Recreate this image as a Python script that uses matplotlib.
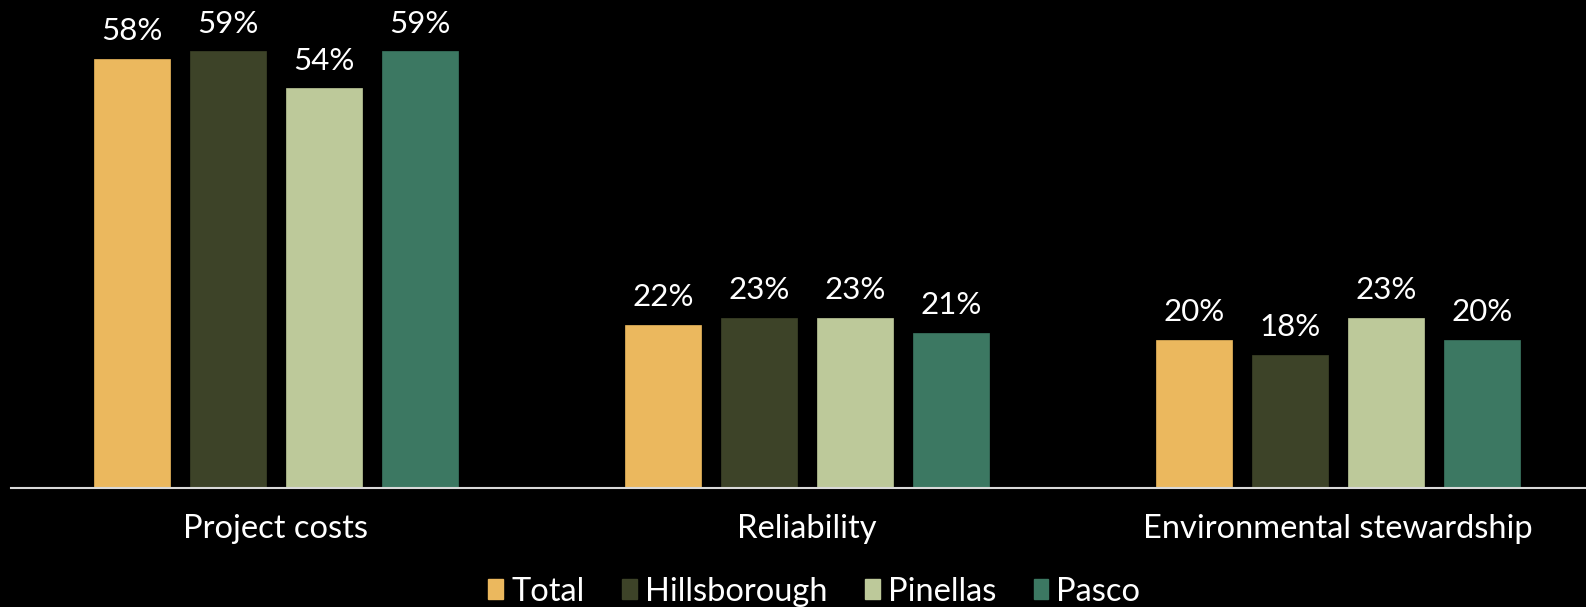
import numpy as np
import matplotlib.pyplot as plt
from matplotlib.patches import Patch

categories = ["Project costs", "Reliability", "Environmental stewardship"]
series = ["Total", "Hillsborough", "Pinellas", "Pasco"]
values = {
    "Total": [58, 22, 20],
    "Hillsborough": [59, 23, 18],
    "Pinellas": [54, 23, 23],
    "Pasco": [59, 21, 20],
}
colors = ["#EBB85E", "#3D4328", "#BDC99A", "#3C7862"]

plt.rcParams['font.family'] = ['Lato', 'DejaVu Sans']

fig = plt.figure(figsize=(15.86, 6.07), dpi=100, facecolor="black")
ax = fig.add_axes([11 / 1586, 119 / 607, 1 - 11 / 1586, 62 * 7.40 / 607])
ax.set_facecolor("black")

x = np.arange(len(categories))
step = 96 / 531
width = 76 / 531
for i, (name, col) in enumerate(zip(series, colors)):
    pos = x + (i - 1.5) * step
    bars = ax.bar(pos, values[name], width, color=col, edgecolor=col, linewidth=0.5)
    for b, v in zip(bars, values[name]):
        ax.annotate(f"{v}%", (b.get_x() + b.get_width() / 2, v), xytext=(0, 10),
                    textcoords="offset points", ha="center", va="bottom",
                    color="white", fontsize=22.5)

ax.set_xlim(-0.499, 2.467)
ax.set_ylim(0, 62)
ax.set_yticks([])
ax.set_xticks(x)
ax.set_xticklabels(categories, color="white", fontsize=23.5)
ax.tick_params(axis="x", length=0, pad=19)
for s in ["top", "right", "left"]:
    ax.spines[s].set_visible(False)
ax.spines["bottom"].set_color("#d9d9d9")
ax.spines["bottom"].set_linewidth(1.5)

handles = [Patch(facecolor=c, edgecolor=c) for c in colors]
leg = fig.legend(handles, series, loc="lower center", bbox_to_anchor=(0.5135, -0.048),
                 ncol=4, frameon=False, fontsize=23.5, labelcolor="white",
                 handlelength=0.45, handleheight=0.55, handletextpad=0.25,
                 columnspacing=1.15)

fig.savefig("out.png", dpi=100, facecolor="black")
